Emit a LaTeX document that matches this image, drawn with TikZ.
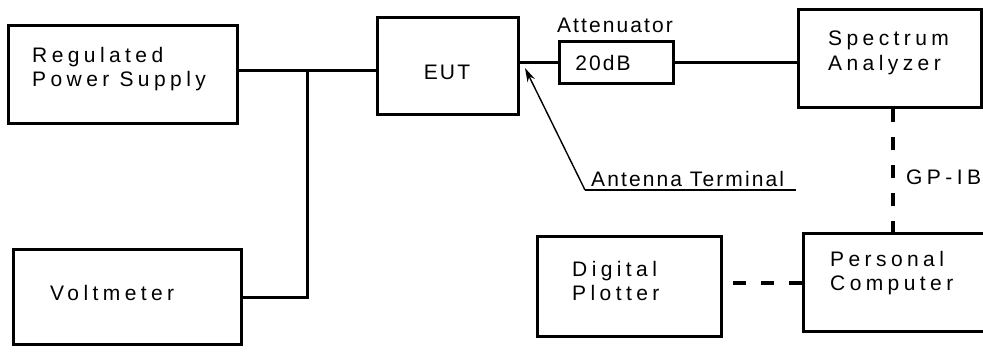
\documentclass[tikz,border=0pt]{standalone}
\usepackage{fontspec}
\setmainfont{Liberation Sans}
\newfontfamily\boxfont[LetterSpace=21]{Liberation Sans}
\newfontfamily\labfont[LetterSpace=10]{Liberation Sans}
\usetikzlibrary{arrows.meta}
\begin{document}
\begin{tikzpicture}[x=1pt,y=-1pt,
  blk/.style={draw,line width=3pt,inner sep=0pt,minimum width=#1},
  boxtxt/.style={inner sep=0pt,anchor=west,align=left,font=\boxfont\fontsize{21}{24.5}\selectfont},
  labtxt/.style={inner sep=0pt,font=\labfont\fontsize{21}{24.5}\selectfont},
  wire/.style={line width=3pt},
  dashwire/.style={line width=3.5pt,dash pattern=on 13pt off 15pt},
  pointer/.style={line width=1.4pt,-{Stealth[length=14pt,width=8pt]}}]
\useasboundingbox (0,0) rectangle (983,352);
% boxes
\node[blk=229pt,minimum height=98pt] (psu) at (122.5,75) {};
\node[blk=228pt,minimum height=95pt] (vm) at (127,297.5) {};
\node[blk=141pt,minimum height=97pt] (eut) at (447.5,66.5) {};
\node[blk=114pt,minimum height=42pt] (att) at (616,63) {};
\node[blk=183pt,minimum height=98pt] (sa) at (889.5,59) {};
\node[blk=184pt,minimum height=100pt] (dp) at (629,287) {};
\node[blk=187pt,minimum height=98pt] (pc) at (896.5,283) {};
% texts
\node[boxtxt] (psut) at (32,69) {Regulated\\Power Supply};
\node[boxtxt] (vmt) at (50,293) {Voltmeter};
\node[labtxt] (eutt) at (447,72) {EUT};
\node[labtxt] (attl) at (615,25) {Attenuator};
\node[labtxt] (attt) at (603,63) {20dB};
\node[boxtxt] (sat) at (828,53) {Spectrum\\Analyzer};
\node[boxtxt] (dpt) at (572,281) {Digital\\Plotter};
\node[boxtxt] (pct) at (830,273) {Personal\\Computer};
\node[boxtxt] (gpib) at (906,177) {GP-IB};
\node[labtxt,anchor=south west] (antt) at (591,187) {Antenna Terminal};
% connectors
\coordinate (j) at (307,71);
\draw[wire] (psu.east |- j) -- (eut.west |- j);
\draw[wire] (vm.east) -| (j);
\draw[wire] (eut.east |- att.west) -- (att.west);
\draw[wire] (att.east) -- (att.east -| sa.west);
\draw[dashwire] (sa.south -| 893,0) -- (pc.north -| 893,0);
\draw[dashwire] (pc.west) -- (pc.west -| dp.east);
% antenna terminal pointer
\coordinate (ac) at (585,190);
\coordinate (ae) at (796,190);
\coordinate (tip) at (525,68);
\draw[line width=1.4pt] (ae) -- (ac);
\draw[pointer] (ac) -- (tip);
\end{tikzpicture}
\end{document}
